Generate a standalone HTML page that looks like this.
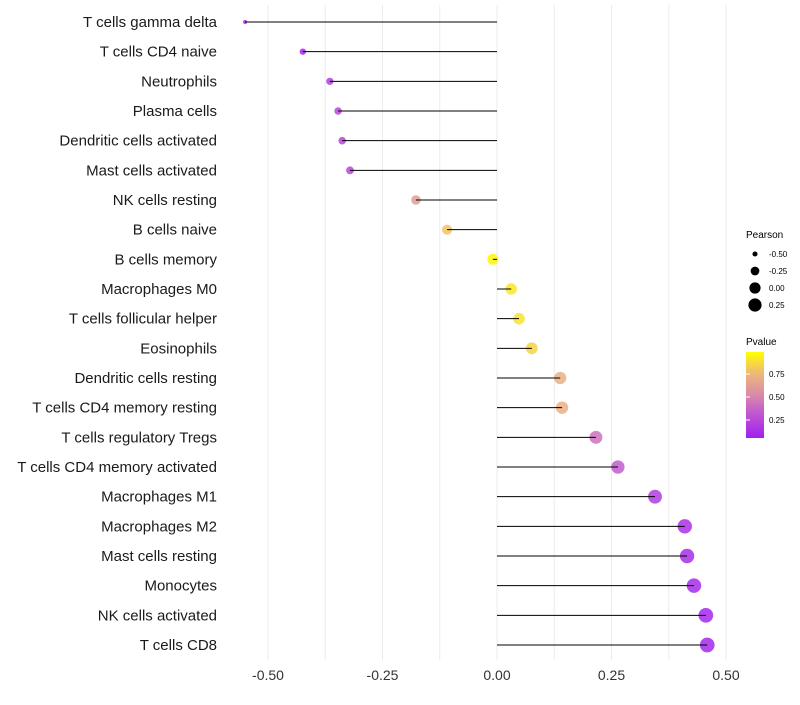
<!DOCTYPE html>
<html><head><meta charset="utf-8"><style>
body{margin:0;background:#fff;font-family:"Liberation Sans",sans-serif;}
</style></head><body>
<svg id="c" width="800" height="700" xmlns="http://www.w3.org/2000/svg"></svg>
<script>
const categories=["T cells gamma delta","T cells CD4 naive","Neutrophils","Plasma cells","Dendritic cells activated","Mast cells activated","NK cells resting","B cells naive","B cells memory","Macrophages M0","T cells follicular helper","Eosinophils","Dendritic cells resting","T cells CD4 memory resting","T cells regulatory  Tregs ","T cells CD4 memory activated","Macrophages M1","Macrophages M2","Mast cells resting","Monocytes","NK cells activated","T cells CD8"];
const pearson=[-0.550,-0.424,-0.365,-0.347,-0.338,-0.321,-0.177,-0.109,-0.009,0.031,0.048,0.076,0.138,0.142,0.216,0.264,0.345,0.410,0.415,0.430,0.456,0.459];
const pvalue=[0.02,0.05,0.15,0.2,0.2,0.2,0.6,0.8,0.97,0.92,0.9,0.85,0.7,0.7,0.4,0.3,0.15,0.08,0.07,0.06,0.04,0.04];
const xTicks=[-0.5,-0.25,0,0.25,0.5];
const xTickLabels=["-0.50","-0.25","0.00","0.25","0.50"];
const sizeLegend=[-0.5,-0.25,0,0.25];
const sizeLegendLabels=["-0.50","-0.25","0.00","0.25"];
const colorLegend=[0.75,0.5,0.25];
const colorLegendLabels=["0.75","0.50","0.25"];

const svg=document.getElementById('c');
const NS="http://www.w3.org/2000/svg";
const x=v=>497+v*458;
const y=i=>22+i*(623/21);
const r=v=>Math.sqrt(4+Math.max(0,(v+0.55))/1.01*50);
const stops=[[0,[160,32,240]],[0.33,[198,96,204]],[0.5,[217,138,168]],[0.75,[238,184,120]],[1,[255,255,0]]];
function col(p){for(let k=1;k<stops.length;k++){if(p<=stops[k][0]){const[a,ca]=stops[k-1],[b,cb]=stops[k];const t=(p-a)/(b-a);return 'rgb('+ca.map((c,j)=>Math.round(c+(cb[j]-c)*t)).join(',')+')';}}return 'rgb(255,255,0)';}
function el(t,a,txt){const e=document.createElementNS(NS,t);for(const k in a)e.setAttribute(k,a[k]);if(txt!==undefined)e.textContent=txt;svg.appendChild(e);return e;}

for(let v=-0.5;v<=0.5001;v+=0.125){
  const g=el('line',{x1:x(v),x2:x(v),y1:5,y2:660,stroke:'#ebebeb','stroke-width':1});
  
  
}
xTicks.forEach((v,i)=>{
  const t=el('text',{x:x(v),y:680,'text-anchor':'middle','font-size':14,fill:'#333'},xTickLabels[i]);
  
  
});
categories.forEach((c,i)=>{
  const t=el('text',{x:217,y:y(i)+5,'text-anchor':'end','font-size':15,fill:'#1a1a1a'},c);
  
  
  const p=el('circle',{cx:x(pearson[i]),cy:y(i),r:r(pearson[i]),fill:col(pvalue[i]),'fill-opacity':0.85});
  
  
  const l=el('line',{x1:x(0),x2:x(pearson[i]),y1:y(i),y2:y(i),stroke:'#000','stroke-width':1});
  
  
});
let t=el('text',{x:746,y:238,'font-size':10,fill:'#000'},'Pearson');


sizeLegend.forEach((v,i)=>{
  const cy=254+i*17;
  const c=el('circle',{cx:755,cy:cy,r:r(v),fill:'#000'});
  
  
  const lt=el('text',{x:769,y:cy+3,'font-size':8,fill:'#000'},sizeLegendLabels[i]);
  
  
});
t=el('text',{x:746,y:345,'font-size':10,fill:'#000'},'Pvalue');


const defs=el('defs',{});
const lg=document.createElementNS(NS,'linearGradient');
lg.setAttribute('id','pg');lg.setAttribute('x1','0');lg.setAttribute('x2','0');lg.setAttribute('y1','1');lg.setAttribute('y2','0');
stops.forEach(s=>{const st=document.createElementNS(NS,'stop');st.setAttribute('offset',s[0]);st.setAttribute('stop-color',col(s[0]));lg.appendChild(st);});
defs.appendChild(lg);
const py=p=>443-p*92;
const bar=el('rect',{x:746,y:352,width:18,height:86,fill:'url(#pg)'});


colorLegend.forEach((v,i)=>{
  const tk=el('line',{x1:746,x2:750,y1:py(v),y2:py(v),stroke:'#fff','stroke-width':1});
  
  
  const lt=el('text',{x:769,y:py(v)+3,'font-size':8,fill:'#000'},colorLegendLabels[i]);
  
  
});
</script>
</body></html>
